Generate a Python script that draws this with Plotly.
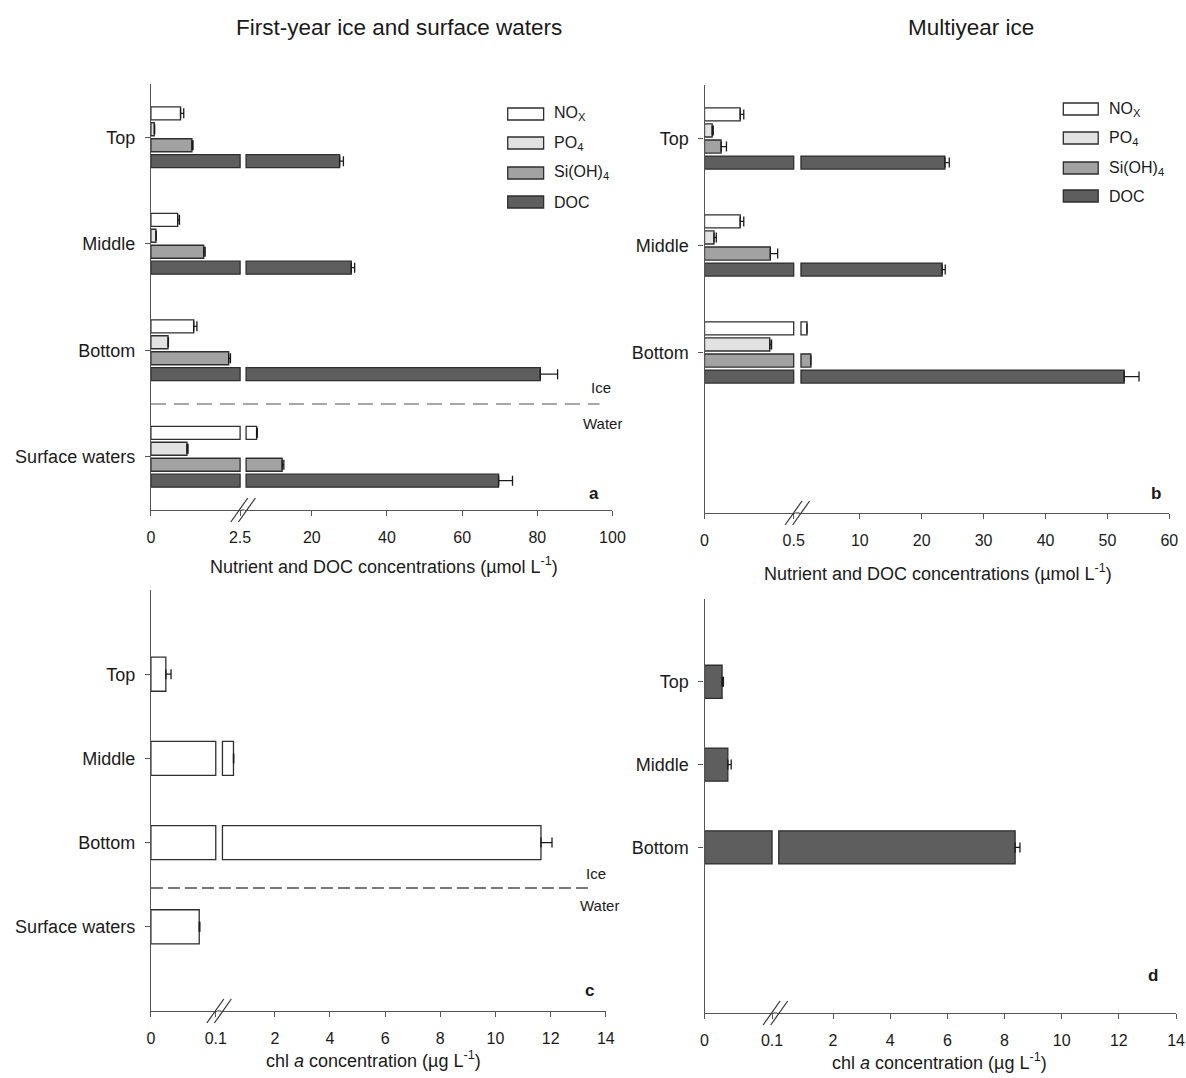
import plotly.graph_objects as go

# ---------------- data ----------------
categories = ["Top", "Middle", "Bottom", "Surface waters"]
fyi_categories = ["Top", "Middle", "Bottom", "Surface waters"]
myi_categories = ["Top", "Middle", "Bottom"]

series_names = ["NO<sub>X</sub>", "PO<sub>4</sub>", "Si(OH)<sub>4</sub>", "DOC"]
series_colors = ["#ffffff", "#e2e2e2", "#a2a2a2", "#5e5e5e"]

# First-year ice and surface waters (µmol L-1)
nox_fyi = [0.83, 0.75, 1.20, 5.3]
nox_fyi_err = [0.09, 0.05, 0.09, 0.2]
po4_fyi = [0.095, 0.14, 0.48, 1.01]
po4_fyi_err = [0.01, 0.01, 0.01, 0.03]
si_fyi = [1.15, 1.48, 2.18, 12.1]
si_fyi_err = [0.03, 0.04, 0.05, 0.45]
doc_fyi = [27.4, 30.5, 80.8, 69.7]
doc_fyi_err = [1.0, 0.9, 4.6, 3.7]

# Multiyear ice (µmol L-1)
nox_myi = [0.20, 0.20, 1.47]
nox_myi_err = [0.02, 0.02, 0.0]
po4_myi = [0.043, 0.053, 0.366]
po4_myi_err = [0.006, 0.013, 0.01]
si_myi = [0.093, 0.369, 2.1]
si_myi_err = [0.03, 0.041, 0.0]
doc_myi = [23.75, 23.3, 52.7]
doc_myi_err = [0.7, 0.5, 2.4]

# chl a (µg L-1)
chl_fyi = [0.023, 0.5, 11.65, 0.0745]
chl_fyi_err = [0.008, 0.01, 0.4, 0.001]
chl_myi = [0.026, 0.0345, 8.37]
chl_myi_err = [0.002, 0.005, 0.17]

# tick labels
fyi_ticks_lower = [0, 2.5]
fyi_ticks_upper = [20, 40, 60, 80, 100]
myi_ticks_lower = [0, 0.5]
myi_ticks_upper = [10, 20, 30, 40, 50, 60]
chl_ticks_lower = [0, 0.1]
chl_ticks_upper = [2, 4, 6, 8, 10, 12, 14]

# ---------------- layout helpers ----------------
REF_W, REF_H = 1186, 1078      # coordinate frame used for the positions below
W, H = 1200, 1078              # rendered figure size
XS = W / REF_W                 # pixel scale of the reference frame in x
FONT = "Liberation Sans, Arial, Helvetica, sans-serif"
TXT = "#1a1a1a"
AX = "#555555"
PAD = 1.5  # px of extra room so bar borders at the break are not clipped


def px(x):
    return x / REF_W


def py(y):
    return 1 - y / REF_H


def axkey(letter, n):
    return f"{letter}axis" if n == 1 else f"{letter}axis{n}"


def tref(letter, n):
    return letter if n == 1 else f"{letter}{n}"


PANELS = {
    "a": dict(xl=1, xh=2, yn=1, x0=147.3, xb=236.7, xs=242.7, x1=610.0,
              y_top=84, y_bot=510, yr=(-0.5, 3.5), brk=2.5, xmax=100,
              tl=fyi_ticks_lower, tu=fyi_ticks_upper, cats=fyi_categories),
    "b": dict(xl=3, xh=4, yn=2, x0=702.3, xb=791.7, xs=799.0, x1=1168.3,
              y_top=85, y_bot=513, yr=(-0.5, 3.5), brk=0.5, xmax=60,
              tl=myi_ticks_lower, tu=myi_ticks_upper, cats=myi_categories),
    "c": dict(xl=5, xh=6, yn=3, x0=147.3, xb=212.3, xs=219.0, x1=603.3,
              y_top=590, y_bot=1011, yr=(-1, 4), brk=0.1, xmax=14,
              tl=chl_ticks_lower, tu=chl_ticks_upper, cats=fyi_categories),
    "d": dict(xl=7, xh=8, yn=4, x0=702.3, xb=770.0, xs=776.7, x1=1175.0,
              y_top=599, y_bot=1013, yr=(-1, 4), brk=0.1, xmax=14,
              tl=chl_ticks_lower, tu=chl_ticks_upper, cats=myi_categories),
}

fig = go.Figure()
layout_axes = {}
shapes = []
annotations = []


def fmt(v):
    return ("%g" % v)


for key, p in PANELS.items():
    pxu_lo = (p["xb"] - p["x0"]) / p["brk"]
    pxu_hi = (p["x1"] - p["xs"]) / (p["xmax"] - p["brk"])
    tickfont = dict(family=FONT, size=16, color=TXT)
    common_x = dict(anchor=tref("y", p["yn"]), showgrid=False, zeroline=False,
                    showline=True, linecolor=AX, linewidth=1.3, ticks="outside",
                    ticklen=5, tickcolor=AX, tickwidth=1.2,
                    tickfont=tickfont, ticklabelstandoff=8, fixedrange=True)
    layout_axes[axkey("x", p["xl"])] = dict(
        domain=[px(p["x0"]), px(p["xb"] + PAD)],
        range=[0, p["brk"] + PAD / pxu_lo],
        tickvals=p["tl"], ticktext=[fmt(v) for v in p["tl"]], **common_x)
    layout_axes[axkey("x", p["xh"])] = dict(
        domain=[px(p["xs"] - PAD), px(p["x1"])],
        range=[p["brk"] - PAD / pxu_hi, p["xmax"]],
        tickvals=p["tu"], ticktext=[fmt(v) for v in p["tu"]], **common_x)
    yvals = [3 - categories.index(c) for c in p["cats"]]
    layout_axes[axkey("y", p["yn"])] = dict(
        domain=[py(p["y_bot"]), py(p["y_top"])], range=list(p["yr"]),
        anchor=tref("x", p["xl"]), showgrid=False, zeroline=False,
        showline=True, linecolor=AX, linewidth=1.3, ticks="outside",
        ticklen=5, tickcolor=AX, tickwidth=1.2,
        tickvals=yvals, ticktext=p["cats"],
        tickfont=dict(family=FONT, size=18, color=TXT),
        ticklabelstandoff=6, fixedrange=True)
    # axis line across the break
    shapes.append(dict(type="line", xref="paper", yref="paper",
                       x0=px(p["xb"] + PAD), x1=px(p["xs"] - PAD),
                       y0=py(p["y_bot"]), y1=py(p["y_bot"]),
                       line=dict(color=AX, width=1.3)))
    # break marks //
    gx = (p["xb"] + p["xs"]) / 2
    for off in (-3.8, 3.8):
        shapes.append(dict(type="line", xref="paper", yref="paper",
                           x0=px(gx + off - 8.5), y0=py(p["y_bot"] + 12),
                           x1=px(gx + off + 8.5), y1=py(p["y_bot"] - 12),
                           line=dict(color="#333333", width=1.2)))


def add_series(panel, cats, values, errs, color, center, width, name):
    p = PANELS[panel]
    brk = p["brk"]
    ya = tref("y", p["yn"])
    xlo = tref("x", p["xl"])
    xhi = tref("x", p["xh"])
    pos = [3 - categories.index(c) for c in cats]
    line = dict(color="#2e2e2e", width=1.3)
    err_style = dict(type="data", symmetric=False, color="#1a1a1a",
                     thickness=1.3, width=5)
    full = [i for i, v in enumerate(values) if v > brk]
    part = [i for i, v in enumerate(values) if v <= brk]
    common = dict(orientation="h", marker=dict(color=color, line=line),
                  width=width, offset=center - width / 2, showlegend=False,
                  name=name, yaxis=ya)
    if full:
        fig.add_trace(go.Bar(y=[pos[i] for i in full], x=[brk for i in full],
                             xaxis=xlo, hoverinfo="skip", **common))
        fig.add_trace(go.Bar(
            y=[pos[i] for i in full], x=[values[i] - brk for i in full],
            base=[brk for i in full], xaxis=xhi,
            customdata=[values[i] for i in full],
            hovertemplate="%{customdata}<extra>" + name + "</extra>",
            error_x=dict(array=[errs[i] for i in full],
                         arrayminus=[0 for i in full], **err_style),
            **common))
    if part:
        fig.add_trace(go.Bar(
            y=[pos[i] for i in part], x=[values[i] for i in part], xaxis=xlo,
            error_x=dict(array=[errs[i] for i in part],
                         arrayminus=[0 for i in part], **err_style),
            **common))


# nutrient panels: 4 bars per category (NOx top ... DOC bottom)
BW = 0.122
PITCH = 0.15
centers = [1.5 * PITCH, 0.5 * PITCH, -0.5 * PITCH, -1.5 * PITCH]
fyi_sets = [(nox_fyi, nox_fyi_err), (po4_fyi, po4_fyi_err),
            (si_fyi, si_fyi_err), (doc_fyi, doc_fyi_err)]
myi_sets = [(nox_myi, nox_myi_err), (po4_myi, po4_myi_err),
            (si_myi, si_myi_err), (doc_myi, doc_myi_err)]
for k in range(4):
    add_series("a", fyi_categories, fyi_sets[k][0], fyi_sets[k][1],
               series_colors[k], centers[k], BW, series_names[k])
    add_series("b", myi_categories, myi_sets[k][0], myi_sets[k][1],
               series_colors[k], centers[k], BW, series_names[k])

add_series("c", fyi_categories, chl_fyi, chl_fyi_err, "#ffffff", 0, 0.405, "chl a")
add_series("d", myi_categories, chl_myi, chl_myi_err, "#5e5e5e", 0, 0.40, "chl a")

# ---------------- manual legends ----------------
legend_specs = [
    (505, 541, 549, [114, 143, 173, 202]),
    (1062, 1097, 1106, [109, 138, 168, 196]),
]
for (lx0, lx1, tx, ys) in legend_specs:
    for k, yy in enumerate(ys):
        shapes.append(dict(type="rect", xref="paper", yref="paper",
                           x0=px(lx0), x1=px(lx1), y0=py(yy + 6), y1=py(yy - 6),
                           fillcolor=series_colors[k],
                           line=dict(color="#2e2e2e", width=1.3)))
        annotations.append(dict(text=series_names[k], xref="paper", yref="paper",
                                x=px(tx), y=py(yy), xanchor="left", yanchor="middle",
                                showarrow=False,
                                font=dict(family=FONT, size=16, color=TXT)))

# ---------------- ice / water separators ----------------
shapes.append(dict(type="line", xref="paper", yref="paper",
                   x0=px(147.3), x1=px(597), y0=py(404), y1=py(404),
                   line=dict(color="#8a8a8a", width=1.3, dash="15px,8px")))
shapes.append(dict(type="line", xref="paper", yref="paper",
                   x0=px(147.3), x1=px(589), y0=py(888), y1=py(888),
                   line=dict(color="#777777", width=2, dash="12px,5px")))


def text(s, x, y, size, bold=False, anchor="center"):
    annotations.append(dict(text=("<b>%s</b>" % s) if bold else s,
                            xref="paper", yref="paper", x=px(x), y=py(y),
                            xanchor=anchor, yanchor="middle", showarrow=False,
                            font=dict(family=FONT, size=size, color=TXT)))


text("Ice", 599, 387, 15)
text("Water", 600, 423, 15)
text("Ice", 593, 873, 15)
text("Water", 597, 905, 15)
text("a", 591, 493, 17, bold=True)
text("b", 1155, 493, 17, bold=True)
text("c", 587, 990, 17, bold=True)
text("d", 1152, 975, 17, bold=True)

text("First-year ice and surface waters", 396, 27, 22.5)
text("Multiyear ice", 969, 27, 22.5)

text("Nutrient and DOC concentrations (µmol L<sup>-1</sup>)", 381, 565, 18)
text("Nutrient and DOC concentrations (µmol L<sup>-1</sup>)", 936, 572, 18)
text("chl <i>a</i> concentration (µg L<sup>-1</sup>)", 370, 1059, 18)
text("chl <i>a</i> concentration (µg L<sup>-1</sup>)", 938, 1061, 18)

fig.update_layout(
    width=W, height=H, autosize=False,
    margin=dict(l=0, r=0, t=0, b=0),
    paper_bgcolor="white", plot_bgcolor="white",
    barmode="overlay", showlegend=False,
    shapes=shapes, annotations=annotations,
    font=dict(family=FONT, color=TXT),
    **layout_axes,
)

# place the figure flush with the window (no default page margin / scrollbars)
fig.write_html(
    "out.html",
    config={"displayModeBar": False},
    post_script=("document.documentElement.style.overflow='hidden';"
                 "document.body.style.margin='0';"
                 "document.body.style.overflow='hidden';"),
)
